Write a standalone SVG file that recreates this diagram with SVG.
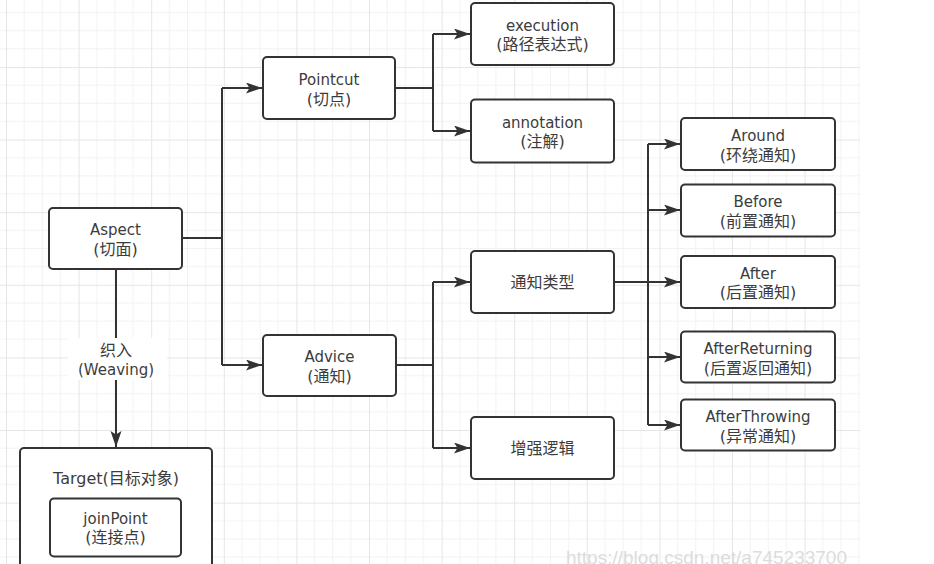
<svg xmlns="http://www.w3.org/2000/svg" width="934" height="564" viewBox="0 0 934 564">
<style>
.node rect{fill:#fff;stroke:#333;stroke-width:2}
text{font-family:"DejaVu Sans","Noto Sans CJK SC",sans-serif;font-size:15px;fill:#3c3c3c;text-anchor:middle}
text.zh{font-size:16px}
.edge{fill:none;stroke:#333;stroke-width:2}
.wm{font-family:"Liberation Sans",sans-serif;font-size:19px;fill:#dcdcdc;text-anchor:start}
</style>
<defs>
<pattern id="grid" patternUnits="userSpaceOnUse" x="6" y="-5.6" width="72.6" height="72.6">
<path d="M18.15 0V72.6M36.3 0V72.6M54.45 0V72.6M0 18.15H72.6M0 36.3H72.6M0 54.45H72.6" stroke="#f2f2f2" stroke-width="1" fill="none"/>
<path d="M0.5 0V72.6M0 0.5H72.6" stroke="#e6e6e6" stroke-width="1" fill="none"/>
</pattern>
<marker id="arr" markerUnits="userSpaceOnUse" markerWidth="17" markerHeight="12" refX="16" refY="5.5" orient="auto" viewBox="0 0 17 12">
<path d="M0,0 L16,5.5 L0,11 L3.5,5.5 z" fill="#333"/>
</marker>
</defs>
<rect x="0" y="0" width="934" height="564" fill="#fff"/>
<rect x="0" y="0" width="860" height="564" fill="url(#grid)"/>

<g id="connectors">
<path class="edge" d="M182,238 H222 M222,88 V365"/>
<path class="edge" d="M222,88 H262" marker-end="url(#arr)"/>
<path class="edge" d="M222,365 H262" marker-end="url(#arr)"/>
<path class="edge" d="M395,88 H433 M433,34 V131"/>
<path class="edge" d="M433,34 H470" marker-end="url(#arr)"/>
<path class="edge" d="M433,131 H470" marker-end="url(#arr)"/>
<path class="edge" d="M396,365 H433 M433,282 V448"/>
<path class="edge" d="M433,282 H470" marker-end="url(#arr)"/>
<path class="edge" d="M433,448 H470" marker-end="url(#arr)"/>
<path class="edge" d="M614,282 H648 M648,144 V425"/>
<path class="edge" d="M648,144 H680" marker-end="url(#arr)"/>
<path class="edge" d="M648,210 H680" marker-end="url(#arr)"/>
<path class="edge" d="M648,282 H680" marker-end="url(#arr)"/>
<path class="edge" d="M648,357 H680" marker-end="url(#arr)"/>
<path class="edge" d="M648,425 H680" marker-end="url(#arr)"/>
<path class="edge" d="M116,269 V447" marker-end="url(#arr)"/>
<g id="weaving-label">
<rect x="68" y="338" width="99" height="42" fill="#fff"/>
<text class="zh" x="116" y="356">织入</text>
<text x="116" y="375">(Weaving)</text>
</g>
</g>

<g id="aspect" class="node"><rect x="49" y="208" width="133" height="61" rx="4"/><text x="115.5" y="235">Aspect</text><text class="zh" x="115.5" y="254.5">(切面)</text></g>
<g id="pointcut" class="node"><rect x="263" y="57" width="132" height="62" rx="4"/><text x="329" y="85">Pointcut</text><text class="zh" x="329" y="104.5">(切点)</text></g>
<g id="advice" class="node"><rect x="263" y="335" width="133" height="61" rx="4"/><text x="329.5" y="362">Advice</text><text class="zh" x="329.5" y="381.5">(通知)</text></g>
<g id="execution" class="node"><rect x="471" y="3" width="143" height="62" rx="4"/><text x="542.5" y="30.5">execution</text><text class="zh" x="542.5" y="50">(路径表达式)</text></g>
<g id="annotation" class="node"><rect x="471" y="99.5" width="143" height="63" rx="4"/><text x="542.5" y="127.5">annotation</text><text class="zh" x="542.5" y="147">(注解)</text></g>
<g id="advice-type" class="node"><rect x="471" y="251" width="143" height="62" rx="4"/><text class="zh" x="542.5" y="288">通知类型</text></g>
<g id="enhance" class="node"><rect x="471" y="417" width="143" height="62" rx="4"/><text class="zh" x="542.5" y="454">增强逻辑</text></g>
<g id="around" class="node"><rect x="681" y="118" width="154" height="52" rx="4"/><text x="758" y="141">Around</text><text class="zh" x="758" y="160.5">(环绕通知)</text></g>
<g id="before" class="node"><rect x="681" y="184.5" width="154" height="52" rx="4"/><text x="758" y="207">Before</text><text class="zh" x="758" y="226.5">(前置通知)</text></g>
<g id="after" class="node"><rect x="681" y="256" width="154" height="52" rx="4"/><text x="758" y="278.5">After</text><text class="zh" x="758" y="298">(后置通知)</text></g>
<g id="after-returning" class="node"><rect x="681" y="331.5" width="154" height="51" rx="4"/><text x="758" y="354">AfterReturning</text><text class="zh" x="758" y="373.5">(后置返回通知)</text></g>
<g id="after-throwing" class="node"><rect x="681" y="399.5" width="154" height="51" rx="4"/><text x="758" y="422">AfterThrowing</text><text class="zh" x="758" y="441.5">(异常通知)</text></g>
<g id="target" class="node"><rect x="20" y="448" width="192" height="130" rx="4"/><text class="zh" x="116" y="483.5">Target(目标对象)</text></g>
<g id="joinpoint" class="node"><rect x="50" y="498.5" width="131" height="58" rx="4"/><text x="115.5" y="523.5">joinPoint</text><text class="zh" x="115.5" y="543">(连接点)</text></g>

<text class="wm" x="566" y="563.5">https://blog.csdn.net/a745233700</text>
</svg>
